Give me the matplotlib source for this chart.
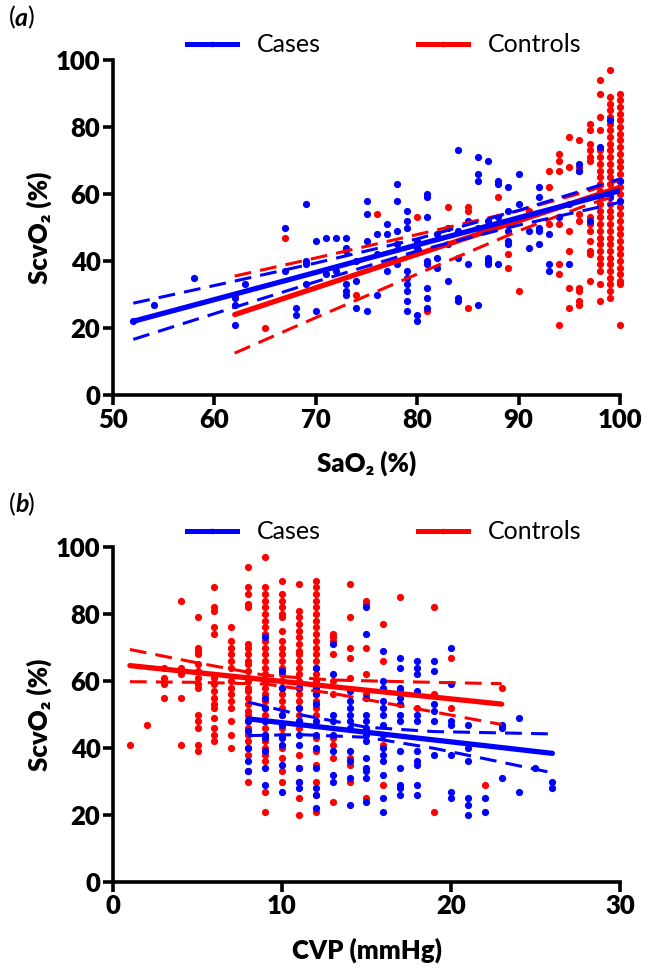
import numpy as np
import matplotlib
matplotlib.use("Agg")
import matplotlib.pyplot as plt
from matplotlib.lines import Line2D

plt.rcParams["font.family"] = ["Lato", "DejaVu Sans"]

BLUE = "#0000FF"
RED = "#FF0000"

# ---------------- panel (a): ScvO2 vs SaO2 ----------------
a_case_sao2 = [52, 54, 58, 62, 63, 67, 68, 69, 70, 71, 72, 73, 74, 75, 76, 77, 78, 79,
               80, 81, 82, 83, 84, 85, 86, 87, 88, 89, 90, 91, 92, 93, 94, 95, 96, 97,
               98, 99, 100]
a_case_scvo2 = [[22], [27], [35], [29, 27, 21], [33], [50, 37], [26, 24], [57, 40, 39, 33],
                [46, 25], [47, 36], [47, 37], [47, 44, 43, 33, 31, 30], [34, 26, 40],
                [58, 54, 46, 25], [48, 30, 42], [51, 48, 37], [63, 58, 49, 39, 45],
                [55, 52, 50, 37, 35, 33, 31, 28, 25], [46, 24, 22, 44],
                [60, 59, 53, 40, 39, 32, 29, 26], [48, 41, 38], [50, 45, 34],
                [73, 41, 29, 28, 49], [39, 52], [71, 66, 64, 27, 50], [70, 41, 40, 39, 52],
                [64, 63, 39, 53], [62, 49, 46, 45, 55], [66, 57], [49, 44],
                [62, 59, 50, 49, 45], [48, 39, 37], [53], [57, 39], [69, 67], [52], [74],
                [82, 59], [64, 58]]

a_ctrl_sao2 = [62, 65, 67, 74, 76, 80, 81, 83, 85, 88, 89, 90, 91, 93, 94, 95, 96, 97,
               98, 99, 100]
a_ctrl_scvo2 = [[30], [20], [47], [30], [54], [53], [25], [56], [56, 55, 26], [59], [42, 38],
                [31], [55], [67, 62, 51], [72, 70, 67, 51, 39, 36, 21],
                [77, 68, 49, 43, 32, 26], [76, 68, 67, 54, 52, 32, 31, 28, 27],
                [81, 79, 75, 73, 71, 70, 53, 51, 49, 46, 43, 42, 34],
                [94, 90, 83, 79, 73, 71, 69, 67, 65, 63, 61, 59, 57, 55, 53, 51, 49, 47,
                 45, 43, 41, 39, 37, 33, 28],
                [97, 89, 87, 85, 83, 81, 79, 77, 75, 73, 71, 69, 67, 65, 63, 61, 59, 57,
                 55, 53, 51, 49, 47, 45, 43, 41, 39, 37, 35, 33, 31, 29],
                [90, 88, 86, 84, 82, 80, 78, 76, 74, 72, 70, 68, 66, 64, 62, 60, 58, 56,
                 54, 52, 50, 48, 46, 44, 42, 40, 38, 36, 34, 33, 21]]

# regression lines and 95% bands
a_case_fit_x = [52, 62, 70, 80, 90, 100]
a_case_fit = [22.0, 30.1, 36.6, 44.8, 52.9, 61.0]
a_case_hi = [27.4, 34.0, 39.4, 46.6, 55.1, 64.5]
a_case_lo = [16.6, 26.2, 33.8, 43.0, 50.7, 57.5]

a_ctrl_fit_x = [62, 70, 80, 90, 97, 100]
a_ctrl_fit = [24.0, 32.0, 42.0, 52.0, 59.0, 62.0]
a_ctrl_hi = [35.5, 40.9, 47.9, 55.0, 61.0, 64.2]
a_ctrl_lo = [12.5, 23.1, 36.1, 49.0, 57.0, 59.8]

# ---------------- panel (b): ScvO2 vs CVP ----------------
b_ctrl_cvp = [1, 2, 3, 4, 5, 6, 7, 8, 9, 10, 11, 12, 13, 14, 15, 16, 17, 18, 19, 20, 22, 23]
b_ctrl_scvo2 = [[41], [47], [64, 61, 59, 55], [84, 64, 62, 55, 41],
                [79, 70, 69, 68, 65, 63, 61, 59, 58, 50, 48, 46, 41, 39],
                [88, 82, 81, 76, 74, 61, 59, 57, 55, 53, 52, 49, 46, 44, 42],
                [76, 72, 70, 68, 66, 64, 60, 58, 56, 54, 52, 48, 44, 40],
                [94, 88, 86, 83, 82, 71, 70, 68, 66, 65, 63, 61, 60, 58, 57, 55, 53, 51,
                 50, 48, 46, 44, 42, 40, 38, 33, 30],
                [97, 88, 86, 84, 82, 80, 78, 76, 74, 72, 70, 68, 66, 64, 62, 60, 58, 56,
                 54, 52, 50, 48, 46, 44, 42, 40, 38, 36, 27, 21],
                [90, 86, 84, 82, 80, 79, 75, 72, 70, 68, 66, 64, 62, 60, 58, 56, 54, 52,
                 50, 46, 44, 40, 37, 33, 30],
                [89, 81, 79, 77, 75, 73, 71, 69, 68, 66, 64, 62, 60, 58, 56, 54, 52, 50,
                 48, 46, 38, 34, 30, 25, 20],
                [90, 88, 86, 84, 82, 80, 78, 76, 74, 72, 70, 68, 66, 64, 62, 60, 58, 56,
                 54, 52, 50, 47, 43, 39, 35, 30, 26, 21],
                [74, 73, 72, 68, 60, 56, 43, 41, 37, 24], [89, 79, 70, 67, 61, 37, 35, 30],
                [84, 83, 70, 62, 56, 25], [77, 66, 41, 29], [85, 57], [52], [82, 56, 21],
                [67, 52], [29], [58]]

b_case_cvp = [8, 9, 10, 11, 12, 13, 14, 15, 16, 17, 18, 19, 20, 21, 22, 23, 24, 25, 26]
b_case_scvo2 = [[48, 45, 40, 36, 33], [73, 55, 52, 48, 44, 43, 39, 34, 29],
                [63, 58, 50, 47, 43, 41, 35, 27], [58, 52, 48, 44, 41, 34, 30, 28],
                [64, 58, 56, 53, 48, 44, 40, 34, 28, 26, 22],
                [71, 62, 50, 48, 44, 39, 32, 30],
                [57, 54, 52, 50, 48, 46, 39, 36, 31, 23],
                [82, 74, 55, 50, 48, 46, 44, 42, 37, 34, 33, 31, 24],
                [69, 60, 58, 54, 52, 50, 47, 44, 40, 38, 36, 32, 25, 21],
                [67, 64, 58, 55, 53, 50, 48, 39, 34, 29, 28, 26],
                [66, 64, 62, 57, 50, 48, 39, 36, 35, 29, 26],
                [66, 63, 53, 51, 48, 38], [70, 59, 48, 47, 38, 27, 25],
                [47, 40, 36, 25, 23, 20], [25, 21], [47, 46, 31], [49, 27], [34], [30, 28]]

b_ctrl_fit_x = [1, 5, 9, 13, 18, 23]
b_ctrl_fit = [64.6, 62.5, 60.4, 58.3, 55.7, 53.1]
b_ctrl_hi = [69.4, 65.4, 61.7, 60.3, 59.7, 59.2]
b_ctrl_lo = [59.8, 59.6, 59.1, 56.3, 51.7, 47.0]

b_case_fit_x = [8, 11, 15, 19, 22, 26]
b_case_fit = [48.7, 47.0, 44.7, 42.4, 40.7, 38.4]
b_case_hi = [53.7, 50.0, 46.2, 44.9, 44.6, 44.2]
b_case_lo = [43.7, 44.0, 43.2, 39.9, 36.8, 32.6]


def expand(cols, vals):
    x = np.repeat(cols, [len(v) for v in vals])
    y = np.concatenate([np.asarray(v, float) for v in vals])
    return x, y


def draw_panel(ax, ctrl, case, ctrl_fit, case_fit, xlim, xticks, xlabel):
    for (cols, vals), col in ((ctrl, RED), (case, BLUE)):
        x, y = expand(cols, vals)
        ax.plot(x, y, "o", color=col, ms=5.2, mec="none", clip_on=False, zorder=2)
    for (fx, fy, hi, lo), col in ((ctrl_fit, RED), (case_fit, BLUE)):
        ax.plot(fx, fy, "-", color=col, lw=3.8, solid_capstyle="round", zorder=3)
        for band in (hi, lo):
            ax.plot(fx, band, "--", color=col, lw=2.2, dashes=(5.5, 3), zorder=3)

    ax.set_xlim(*xlim)
    ax.set_ylim(0, 100)
    ax.set_xticks(xticks)
    ax.set_yticks([0, 20, 40, 60, 80, 100])
    for s in ("top", "right"):
        ax.spines[s].set_visible(False)
    for s in ("left", "bottom"):
        ax.spines[s].set_linewidth(2.6)
    ax.tick_params(width=2.6, length=7, direction="out", pad=2,
                   labelsize=18.5)
    for lab in ax.get_xticklabels() + ax.get_yticklabels():
        lab.set_fontweight("heavy")
    ax.set_xlabel(xlabel, fontsize=18.5, fontweight="heavy", labelpad=14)
    ax.set_ylabel("ScvO₂ (%)", fontsize=18.5, fontweight="heavy", labelpad=3)

    handles = [Line2D([], [], color=BLUE, lw=3.6, marker="o", ms=3),
               Line2D([], [], color=RED, lw=3.6, marker="o", ms=3)]
    ax.legend(handles, ["Cases", "Controls"], loc="center",
              bbox_to_anchor=(0.535, 1.045), ncol=2, frameon=False, fontsize=18,
              handlelength=2.0, columnspacing=3.9, handletextpad=0.8,
              borderaxespad=0)


fig = plt.figure(figsize=(6.55, 9.69), dpi=100)
ax_a = fig.add_axes([113 / 655, 1 - 395 / 969, 507 / 655, 335 / 969])
ax_b = fig.add_axes([113 / 655, 1 - 882 / 969, 507 / 655, 335 / 969])

draw_panel(ax_a, (a_ctrl_sao2, a_ctrl_scvo2), (a_case_sao2, a_case_scvo2),
           (a_ctrl_fit_x, a_ctrl_fit, a_ctrl_hi, a_ctrl_lo),
           (a_case_fit_x, a_case_fit, a_case_hi, a_case_lo),
           (50, 100), [50, 60, 70, 80, 90, 100], "SaO₂ (%)")
draw_panel(ax_b, (b_ctrl_cvp, b_ctrl_scvo2), (b_case_cvp, b_case_scvo2),
           (b_ctrl_fit_x, b_ctrl_fit, b_ctrl_hi, b_ctrl_lo),
           (b_case_fit_x, b_case_fit, b_case_hi, b_case_lo),
           (0, 30), [0, 10, 20, 30], "CVP (mmHg)")

# panel letters: "(", bold italic letter, ")"
for letter, ypix in (("a", 18), ("b", 505)):
    yf = 1 - ypix / 969
    fig.text(9 / 655, yf, "(", fontsize=18, va="center")
    fig.text(15 / 655, yf, letter, fontsize=18, va="center",
             fontweight="bold", fontstyle="italic")
    fig.text(27 / 655, yf, ")", fontsize=18, va="center")

fig.savefig("out.png", dpi=100)
